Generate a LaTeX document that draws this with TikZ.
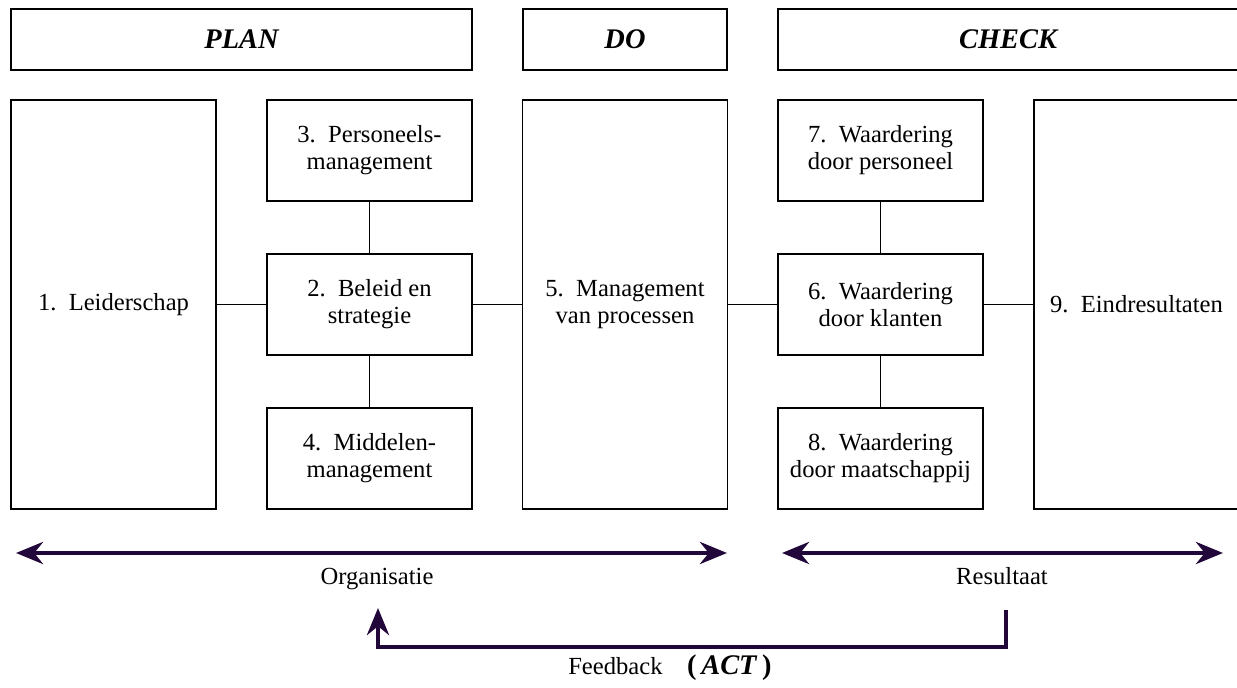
\documentclass[tikz,border=0pt]{standalone}
\usepackage{fontspec}
\setmainfont{Liberation Serif}
\usetikzlibrary{arrows.meta}
\definecolor{arrowpurple}{RGB}{34,8,58}

\begin{document}
\begin{tikzpicture}[x=0.5pt,y=-0.5pt,
		>={Stealth[length=13.5pt,width=11pt]},
		box/.style={draw,line width=0.6pt,align=center,inner sep=0pt,font=\fontsize{12.3}{13.5}\selectfont},
		header/.style={box,minimum width=230.5pt,minimum height=30.5pt,font=\fontsize{14.2}{16}\selectfont\bfseries\itshape},
		tallbox/.style={box,minimum width=102.5pt,minimum height=204.5pt},
		smallbox/.style={box,minimum width=102.5pt,minimum height=50.5pt},
		plaintext/.style={inner sep=0pt,font=\fontsize{12.3}{13.5}\selectfont},
		link/.style={line width=0.6pt},
		flow/.style={line width=2.35pt,arrowpurple}]
			\useasboundingbox (0,0) rectangle (1237,688);
			\clip (0,0) rectangle (1237,688);
			% phases
			\node[header] (plan) at (241.5,39.5) {PLAN};
			\node[header,minimum width=102pt] (do) at (625,39.5) {DO};
			\node[header,minimum width=230pt] (check) at (1008,39.5) {CHECK};
			% criteria
			\node[tallbox] (leider) at (113.5,304.5) {1.\ \ Leiderschap};
			\node[smallbox] (personeel) at (369.5,150.5) {3.\ \ Personeels-\\management};
			\node[smallbox] (beleid) at (369.5,304.5) {2.\ \ Beleid en\\strategie};
			\node[smallbox] (middelen) at (369.5,458.5) {4.\ \ Middelen-\\management};
			\node[tallbox] (processen) at (625,304.5) {5.\ \ Management\\van processen};
			\node[smallbox] (wpers) at (880.5,150.5) {7.\ \ Waardering\\door personeel};
			\node[smallbox] (wklant) at (880.5,304.5) {6.\ \ Waardering\\door klanten};
			\node[smallbox] (wmaat) at (880.5,458.5) {8.\ \ Waardering\\door maatschappij};
			\node[tallbox] (eind) at (1136.5,304.5) {9.\ \ Eindresultaten};
			\draw[link] (leider) -- (beleid);
			\draw[link] (beleid) -- (processen);
			\draw[link] (processen) -- (wklant);
			\draw[link] (wklant) -- (eind);
			\draw[link] (personeel) -- (beleid);
			\draw[link] (beleid) -- (middelen);
			\draw[link] (wpers) -- (wklant);
			\draw[link] (wklant) -- (wmaat);
			% organisatie / resultaat
			\coordinate (orgL) at (16,553);
			\coordinate (orgR) at (727,553);
			\coordinate (resL) at (782,553);
			\coordinate (resR) at (1223,553);
			\draw[flow,<->] (orgL) -- (orgR);
			\draw[flow,<->] (resL) -- (resR);
			\node[plaintext,anchor=base] (org) at (377,585) {Organisatie};
			\node[plaintext,anchor=base] (res) at (1002,585) {Resultaat};
			% feedback
			\coordinate (fbstart) at (1006,610);
			\coordinate (fbend) at (378,608);
			\draw[flow,->] (fbstart) -- ++(0,37) -| (fbend);
			\node[plaintext,anchor=base] (feedback) at (670,675) {Feedback\quad{\fontsize{14.2}{16}\selectfont\bfseries(\,\textit{ACT}\,)}};
		\end{tikzpicture}
\end{document}
